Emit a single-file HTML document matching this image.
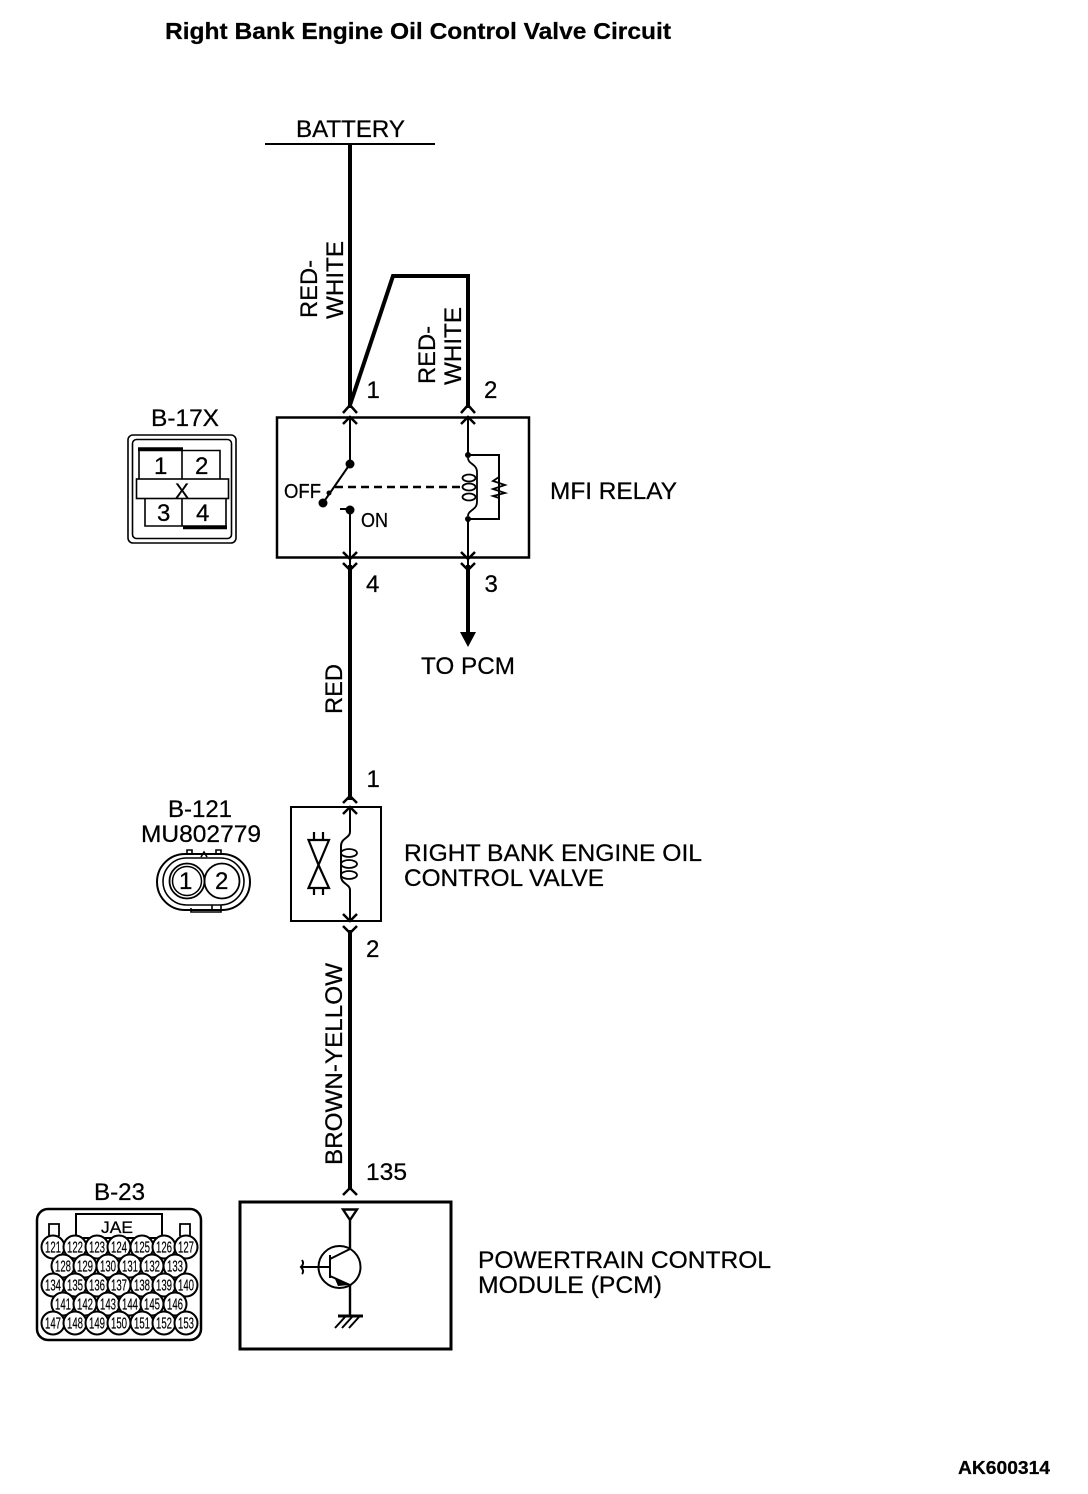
<!DOCTYPE html>
<html><head><meta charset="utf-8"><style>
html,body{margin:0;padding:0;background:#fff}
svg{display:block}
text{font-family:"Liberation Sans",sans-serif;font-size:24px;fill:#000;stroke:#000;stroke-width:.25px}
.n text{font-size:16px;text-anchor:middle;stroke-width:.2px}
</style></head><body>
<svg width="1088" height="1494" viewBox="0 0 1088 1494" xmlns="http://www.w3.org/2000/svg">
<rect width="1088" height="1494" fill="#fff"/>
<text x="165" y="39" textLength="506" lengthAdjust="spacingAndGlyphs" style="font-weight:700;font-size:23px">Right Bank Engine Oil Control Valve Circuit</text>
<text x="296" y="137" textLength="109" lengthAdjust="spacingAndGlyphs">BATTERY</text>
<g fill="none" stroke="#000">
<path d="M265 144H435" stroke-width="2"/>
<path d="M350 144V408M350 405L393 276H468V408" stroke-width="4"/>
<path d="M350 565V800M350 930V1188M468 565V634" stroke-width="4"/>
<!-- relay -->
<rect x="277" y="417.500" width="252" height="140" stroke-width="2.500"/>
<path d="M350 417V464M323 503L350 464M350 510V565M340 509H346M468 417V455M468 519V565" stroke-width="2"/>
<path d="M335 487H462" stroke-width="2.500" stroke-dasharray="8 5"/>
<path d="M468 455H499V519H468" stroke-width="2"/>
<path d="M468 458C468 464 477 464 477 472V502C477 510 468 510 468 516" stroke-width="1.800"/>
<ellipse cx="469" cy="478" rx="6.500" ry="3.500" stroke-width="1.800"/>
<ellipse cx="469" cy="487" rx="6.500" ry="3.500" stroke-width="1.800"/>
<ellipse cx="469" cy="497" rx="6.500" ry="3.500" stroke-width="1.800"/>
<path d="M499 477L493 481L505 485L493 489L505 493L493 496L499 498" stroke-width="1.800"/>
<!-- chevrons -->
<path d="M343 413L350 405L357 413M343 424L350 417L357 424M461 413L468 405L475 413M461 424L468 417L475 424" stroke-width="2.500"/>
<path d="M343 552L350 559L357 552M343 563L350 570L357 563M461 552L468 559L475 552M461 563L468 570L475 563" stroke-width="2.500"/>
<path d="M343 803L350 796L357 803M343 814L350 807L357 814" stroke-width="2.500"/>
<path d="M343 914L350 921L357 914M343 926L350 933L357 926" stroke-width="2.500"/>
<path d="M343 1195L350 1188L357 1195" stroke-width="2.500"/>
<!-- B-17X -->
<rect x="128" y="435" width="108" height="108" rx="5" stroke-width="1.600"/>
<rect x="132.500" y="439.500" width="99" height="99" rx="4" stroke-width="1.600"/>
<path d="M139 479V450.500H220V479M145 498V526H226V498M182 450V479M182 498V526" stroke-width="1.600"/>
<rect x="136.500" y="479" width="92" height="19.500" stroke-width="1.600"/>
<path d="M138 449H183" stroke-width="3.500"/>
<path d="M183 527.500H227" stroke-width="3.500"/>
<!-- valve -->
<rect x="291" y="807" width="90" height="114" stroke-width="2"/>
<path d="M350 807V832C350 838 341 838 341 846V876C341 884 350 884 350 890V921" stroke-width="2"/>
<ellipse cx="349" cy="853" rx="8" ry="4" stroke-width="1.800"/>
<ellipse cx="349" cy="864" rx="8" ry="4" stroke-width="1.800"/>
<ellipse cx="349" cy="875" rx="8" ry="4" stroke-width="1.800"/>
<path d="M308.500 840H329L318.500 865L308.500 840ZM308.500 888H329L318.500 865L308.500 888ZM314 832V840M323 832V840M314 888V895M323 888V895" stroke-width="2.200"/>
<!-- B-121 -->
<rect x="157" y="854" width="93" height="56" rx="28" stroke-width="2"/>
<rect x="163" y="858" width="81" height="47" rx="23.500" stroke-width="1.600"/>
<circle cx="187" cy="881" r="17.500" stroke-width="1.800"/>
<circle cx="187" cy="881" r="14.500" stroke-width="1.500"/>
<circle cx="222" cy="881" r="17.500" stroke-width="1.800"/>
<path d="M187 853V850H192V853M216 853V850H221V853M201 857L204 852L207 857M191 908V912H221V905M212 905V910" stroke-width="1.600"/>
<!-- PCM -->
<rect x="240" y="1202" width="211" height="147" stroke-width="3"/>
<path d="M343 1209.500H357L350 1220ZM350 1220V1248M350 1285V1315" stroke-width="2.400"/>
<circle cx="339.500" cy="1267" r="21" stroke-width="2"/>
<path d="M302 1267H330M330 1255V1278M330 1259L350 1249M330 1276L350 1285M302 1260C304 1263 303 1265 301 1267C303 1269 304 1272 302 1274" stroke-width="2"/>
<path d="M338 1316H363" stroke-width="3"/>
<path d="M345 1317L335 1328M352 1317L342 1328M359 1317L349 1328" stroke-width="2"/>
<!-- B-23 -->
<rect x="37" y="1209" width="164" height="131" rx="11" stroke-width="2.500"/>
<rect x="76" y="1214" width="86" height="24" stroke-width="2"/>
<path d="M49 1236V1224H59V1236M180 1236V1224H190V1236" stroke-width="1.800"/>
</g>
<g fill="#000" stroke="none">
<circle cx="350" cy="464" r="4.500"/><circle cx="323" cy="503" r="4.500"/><circle cx="329" cy="493" r="2.500"/><circle cx="350" cy="510" r="4.500"/>
<circle cx="468" cy="455" r="3"/><circle cx="468" cy="519" r="3"/>
<path d="M460 632H476L468 647Z"/>
<path d="M335 1279L350 1285L338 1286Z"/>
</g>
<text transform="translate(317,318) rotate(-90)" textLength="58" lengthAdjust="spacingAndGlyphs">RED-</text>
<text transform="translate(343,319) rotate(-90)" textLength="78" lengthAdjust="spacingAndGlyphs">WHITE</text>
<text transform="translate(435,384) rotate(-90)" textLength="58" lengthAdjust="spacingAndGlyphs">RED-</text>
<text transform="translate(461,385) rotate(-90)" textLength="78" lengthAdjust="spacingAndGlyphs">WHITE</text>
<text transform="translate(342,714) rotate(-90)" textLength="50" lengthAdjust="spacingAndGlyphs">RED</text>
<text transform="translate(342,1165) rotate(-90)" textLength="202" lengthAdjust="spacingAndGlyphs">BROWN-YELLOW</text>
<text x="366.500" y="398">1</text><text x="484" y="398">2</text>
<text x="366" y="592">4</text><text x="484.500" y="592">3</text>
<text x="421" y="674" textLength="94" lengthAdjust="spacingAndGlyphs">TO PCM</text>
<text x="366.500" y="787">1</text><text x="366" y="957">2</text>
<text x="366" y="1180" textLength="41" lengthAdjust="spacingAndGlyphs">135</text>
<text x="550" y="499" textLength="127" lengthAdjust="spacingAndGlyphs">MFI RELAY</text>
<text x="404" y="861" textLength="298" lengthAdjust="spacingAndGlyphs">RIGHT BANK ENGINE OIL</text>
<text x="404" y="886" textLength="200" lengthAdjust="spacingAndGlyphs">CONTROL VALVE</text>
<text x="478" y="1268" textLength="293" lengthAdjust="spacingAndGlyphs">POWERTRAIN CONTROL</text>
<text x="478" y="1293" textLength="184" lengthAdjust="spacingAndGlyphs">MODULE (PCM)</text>
<text x="958" y="1474" textLength="92" lengthAdjust="spacingAndGlyphs" style="font-weight:700;font-size:18px">AK600314</text>
<text x="151" y="426" textLength="68" lengthAdjust="spacingAndGlyphs">B-17X</text>
<text x="168" y="817" textLength="64" lengthAdjust="spacingAndGlyphs">B-121</text>
<text x="141" y="842" textLength="120" lengthAdjust="spacingAndGlyphs">MU802779</text>
<text x="94" y="1200" textLength="51" lengthAdjust="spacingAndGlyphs">B-23</text>
<text x="284" y="498" textLength="37" lengthAdjust="spacingAndGlyphs" style="font-size:20px">OFF</text>
<text x="361" y="527" textLength="27" lengthAdjust="spacingAndGlyphs" style="font-size:20px">ON</text>
<text x="154" y="474">1</text><text x="195" y="474">2</text><text x="157" y="521">3</text><text x="196" y="521">4</text>
<text x="175" y="498" style="font-size:21px">X</text>
<text x="179" y="889">1</text><text x="215" y="889">2</text>
<text x="101" y="1233" textLength="32" lengthAdjust="spacingAndGlyphs" style="font-size:17px">JAE</text>
<g fill="#fff" stroke="#000" stroke-width="2">
<circle cx="53" cy="1247" r="11.500"/><circle cx="75" cy="1247" r="11.500"/><circle cx="97" cy="1247" r="11.500"/><circle cx="119" cy="1247" r="11.500"/><circle cx="142" cy="1247" r="11.500"/><circle cx="164" cy="1247" r="11.500"/><circle cx="186" cy="1247" r="11.500"/>
<circle cx="63" cy="1266" r="11.500"/><circle cx="85" cy="1266" r="11.500"/><circle cx="108" cy="1266" r="11.500"/><circle cx="130" cy="1266" r="11.500"/><circle cx="152" cy="1266" r="11.500"/><circle cx="175" cy="1266" r="11.500"/>
<circle cx="53" cy="1285" r="11.500"/><circle cx="75" cy="1285" r="11.500"/><circle cx="97" cy="1285" r="11.500"/><circle cx="119" cy="1285" r="11.500"/><circle cx="142" cy="1285" r="11.500"/><circle cx="164" cy="1285" r="11.500"/><circle cx="186" cy="1285" r="11.500"/>
<circle cx="63" cy="1304" r="11.500"/><circle cx="85" cy="1304" r="11.500"/><circle cx="108" cy="1304" r="11.500"/><circle cx="130" cy="1304" r="11.500"/><circle cx="152" cy="1304" r="11.500"/><circle cx="175" cy="1304" r="11.500"/>
<circle cx="53" cy="1323" r="11.500"/><circle cx="75" cy="1323" r="11.500"/><circle cx="97" cy="1323" r="11.500"/><circle cx="119" cy="1323" r="11.500"/><circle cx="142" cy="1323" r="11.500"/><circle cx="164" cy="1323" r="11.500"/><circle cx="186" cy="1323" r="11.500"/>
</g>
<g class="n">
<text x="53" y="1252.500" textLength="16" lengthAdjust="spacingAndGlyphs">121</text><text x="75" y="1252.500" textLength="16" lengthAdjust="spacingAndGlyphs">122</text><text x="97" y="1252.500" textLength="16" lengthAdjust="spacingAndGlyphs">123</text><text x="119" y="1252.500" textLength="16" lengthAdjust="spacingAndGlyphs">124</text><text x="142" y="1252.500" textLength="16" lengthAdjust="spacingAndGlyphs">125</text><text x="164" y="1252.500" textLength="16" lengthAdjust="spacingAndGlyphs">126</text><text x="186" y="1252.500" textLength="16" lengthAdjust="spacingAndGlyphs">127</text>
<text x="63" y="1271.500" textLength="16" lengthAdjust="spacingAndGlyphs">128</text><text x="85" y="1271.500" textLength="16" lengthAdjust="spacingAndGlyphs">129</text><text x="108" y="1271.500" textLength="16" lengthAdjust="spacingAndGlyphs">130</text><text x="130" y="1271.500" textLength="16" lengthAdjust="spacingAndGlyphs">131</text><text x="152" y="1271.500" textLength="16" lengthAdjust="spacingAndGlyphs">132</text><text x="175" y="1271.500" textLength="16" lengthAdjust="spacingAndGlyphs">133</text>
<text x="53" y="1290.500" textLength="16" lengthAdjust="spacingAndGlyphs">134</text><text x="75" y="1290.500" textLength="16" lengthAdjust="spacingAndGlyphs">135</text><text x="97" y="1290.500" textLength="16" lengthAdjust="spacingAndGlyphs">136</text><text x="119" y="1290.500" textLength="16" lengthAdjust="spacingAndGlyphs">137</text><text x="142" y="1290.500" textLength="16" lengthAdjust="spacingAndGlyphs">138</text><text x="164" y="1290.500" textLength="16" lengthAdjust="spacingAndGlyphs">139</text><text x="186" y="1290.500" textLength="16" lengthAdjust="spacingAndGlyphs">140</text>
<text x="63" y="1309.500" textLength="16" lengthAdjust="spacingAndGlyphs">141</text><text x="85" y="1309.500" textLength="16" lengthAdjust="spacingAndGlyphs">142</text><text x="108" y="1309.500" textLength="16" lengthAdjust="spacingAndGlyphs">143</text><text x="130" y="1309.500" textLength="16" lengthAdjust="spacingAndGlyphs">144</text><text x="152" y="1309.500" textLength="16" lengthAdjust="spacingAndGlyphs">145</text><text x="175" y="1309.500" textLength="16" lengthAdjust="spacingAndGlyphs">146</text>
<text x="53" y="1328.500" textLength="16" lengthAdjust="spacingAndGlyphs">147</text><text x="75" y="1328.500" textLength="16" lengthAdjust="spacingAndGlyphs">148</text><text x="97" y="1328.500" textLength="16" lengthAdjust="spacingAndGlyphs">149</text><text x="119" y="1328.500" textLength="16" lengthAdjust="spacingAndGlyphs">150</text><text x="142" y="1328.500" textLength="16" lengthAdjust="spacingAndGlyphs">151</text><text x="164" y="1328.500" textLength="16" lengthAdjust="spacingAndGlyphs">152</text><text x="186" y="1328.500" textLength="16" lengthAdjust="spacingAndGlyphs">153</text>
</g>
</svg>
</body></html>
